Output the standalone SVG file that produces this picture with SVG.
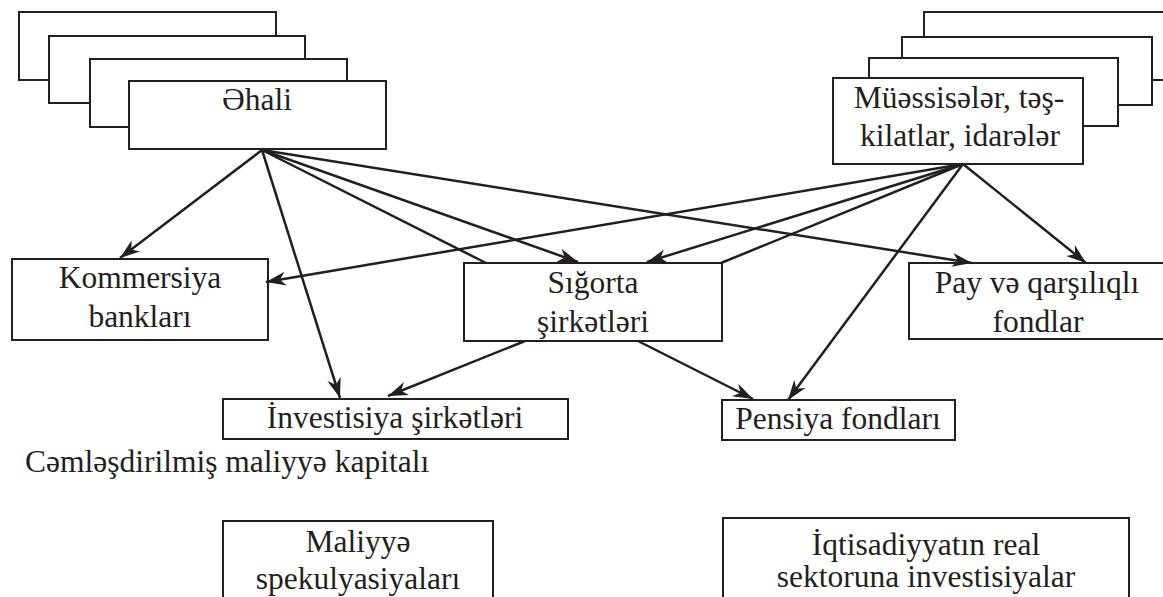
<svg xmlns="http://www.w3.org/2000/svg" width="1163" height="597" viewBox="0 0 1163 597">
<style>
  rect { fill: #ffffff; stroke: #231f20; stroke-width: 2; }
  text { font-family: 'Liberation Serif', 'Times New Roman', serif; font-size: 31.5px; fill: #231f20; text-anchor: middle; }
  .conn line { stroke: #231f20; stroke-width: 2.5; fill: none; }
  .arr { marker-end: url(#ah); }
</style>
<defs>
  <marker id="ah" markerUnits="userSpaceOnUse" markerWidth="22" markerHeight="16" refX="20" refY="8" orient="auto">
    <path d="M0,1 L20,8 L0,15 L6,8 Z" fill="#231f20"/>
  </marker>
</defs>
<rect width="1163" height="597" style="fill:#ffffff;stroke:none"/>

<g id="ehali">
  <rect x="19" y="12" width="257" height="68"/>
  <rect x="49" y="36" width="256" height="67"/>
  <rect x="90" y="59" width="257" height="68"/>
  <rect x="129" y="81" width="257" height="68"/>
  <text x="257" y="110">Əhali</text>
</g>

<g id="muessiseler">
  <rect x="924" y="12" width="260" height="68"/>
  <rect x="902" y="37" width="250" height="68"/>
  <rect x="869" y="58" width="249" height="68"/>
  <rect x="833" y="78" width="250" height="86"/>
  <text x="959" y="108">Müəssisələr, təş-</text>
  <text x="960" y="146">kilatlar, idarələr</text>
</g>

<g id="kommersiya">
  <rect x="12" y="259" width="256" height="81"/>
  <text x="140" y="288">Kommersiya</text>
  <text x="140" y="327">bankları</text>
</g>

<g id="sigorta">
  <rect x="464" y="263" width="258" height="78"/>
  <text x="593" y="293">Sığorta</text>
  <text x="593" y="332">şirkətləri</text>
</g>

<g id="pay">
  <rect x="909" y="263" width="270" height="76"/>
  <text x="1037" y="293">Pay və qarşılıqlı</text>
  <text x="1038" y="332">fondlar</text>
</g>

<g id="investisiya">
  <rect x="223" y="399" width="345" height="40"/>
  <text x="395" y="428">İnvestisiya şirkətləri</text>
</g>

<g id="pensiya">
  <rect x="722" y="400" width="233" height="40"/>
  <text x="838" y="429">Pensiya fondları</text>
</g>

<g id="cemlesdirilmis">
  <text x="25" y="472" style="text-anchor:start">Cəmləşdirilmiş maliyyə kapitalı</text>
</g>

<g id="maliyye">
  <rect x="223" y="521" width="270" height="90"/>
  <text x="358" y="552">Maliyyə</text>
  <text x="358" y="589">spekulyasiyaları</text>
</g>

<g id="iqtisadiyyat">
  <rect x="723" y="518" width="406" height="90"/>
  <text x="926" y="555">İqtisadiyyatın real</text>
  <text x="926" y="587">sektoruna investisiyalar</text>
</g>

<g id="connectors" class="conn">
  <line class="arr" x1="262" y1="150" x2="120" y2="258"/>
  <line class="arr" x1="262" y1="150" x2="340" y2="398"/>
  <line x1="262" y1="150" x2="486" y2="263"/>
  <line class="arr" x1="262" y1="150" x2="578" y2="262"/>
  <line class="arr" x1="262" y1="150" x2="972" y2="263"/>
  <line class="arr" x1="963" y1="164" x2="266" y2="282"/>
  <line class="arr" x1="963" y1="164" x2="647" y2="262"/>
  <line x1="963" y1="164" x2="721" y2="263"/>
  <line class="arr" x1="963" y1="164" x2="788" y2="400"/>
  <line class="arr" x1="963" y1="164" x2="1086" y2="263"/>
  <line class="arr" x1="525" y1="341" x2="388" y2="396"/>
  <line class="arr" x1="638" y1="341" x2="753" y2="399"/>
</g>
</svg>
